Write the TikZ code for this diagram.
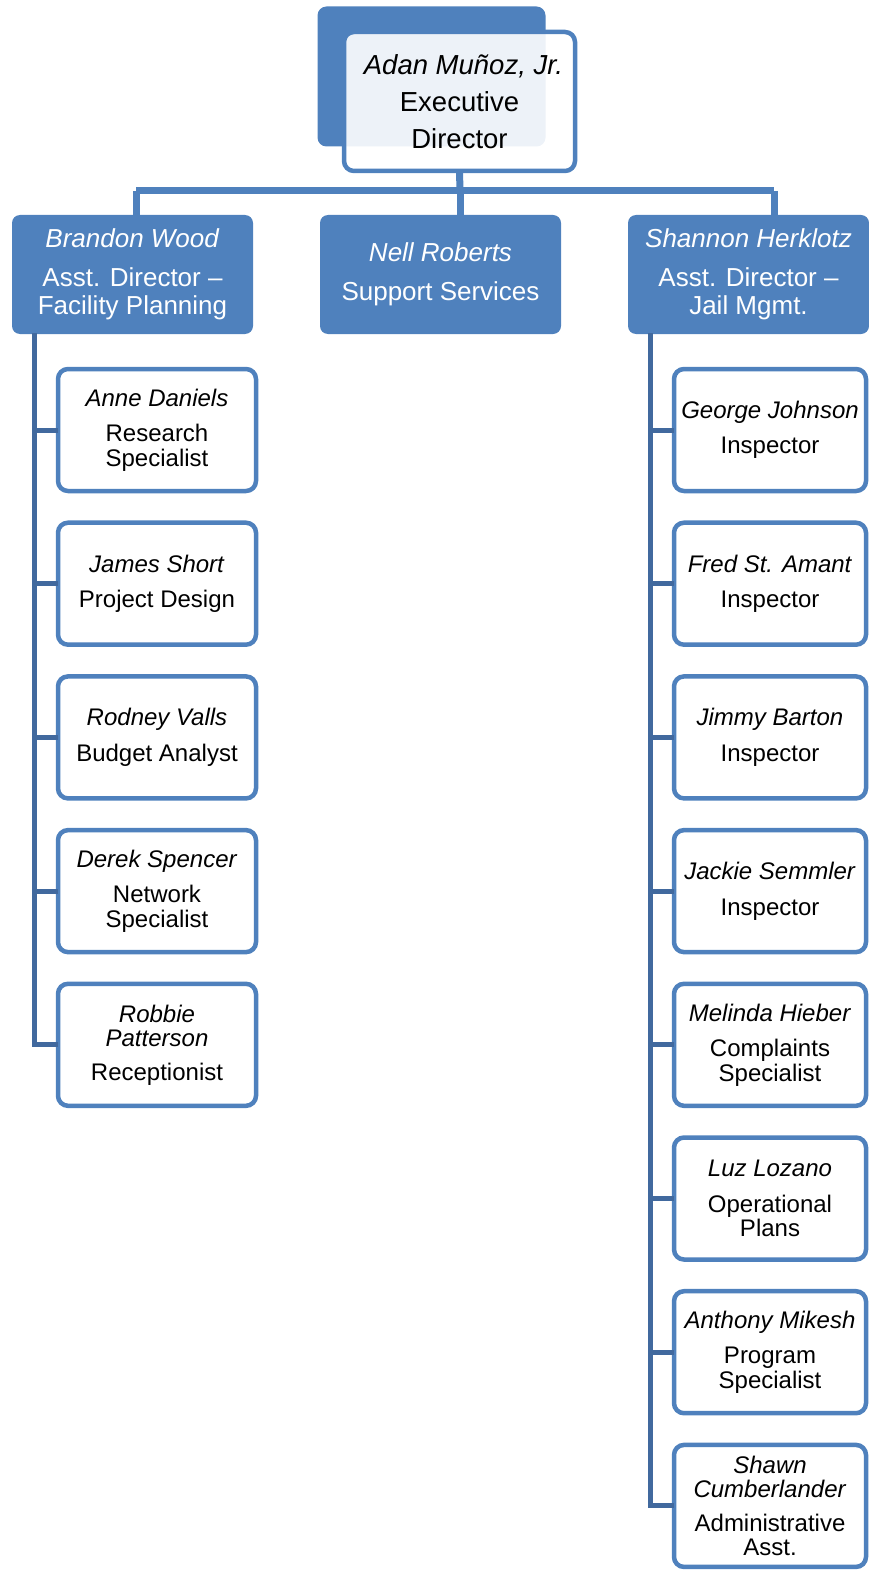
\documentclass[tikz,border=0pt]{standalone}
\usepackage{fontspec}
\setmainfont{Liberation Sans}
\definecolor{orgblue}{HTML}{4F81BD}
\definecolor{bardark}{HTML}{41699E}
\tikzset{
  headback/.style={fill=orgblue, rounded corners=9pt, inner sep=0pt, outer sep=0pt,
    minimum width=228pt, minimum height=140pt},
  headbox/.style={draw=orgblue, line width=4.5pt, fill=white, fill opacity=0.9, text opacity=1,
    rounded corners=10pt, inner sep=0pt, outer sep=0pt, minimum width=231pt, minimum height=139pt,
    align=center, font=\fontsize{27.5}{37}\selectfont},
  unitbox/.style={fill=orgblue, rounded corners=8pt, inner sep=0pt, outer sep=0pt,
    minimum width=241pt, minimum height=119pt, text=white, align=center,
    font=\fontsize{26}{28}\selectfont},
  staffbox/.style={draw=orgblue, line width=4.5pt, fill=white, rounded corners=10pt,
    inner sep=0pt, outer sep=0pt, minimum height=122pt, align=center,
    font=\fontsize{24}{24.5}\selectfont},
  leftstaff/.style={staffbox, minimum width=198pt},
  rightstaff/.style={staffbox, minimum width=192pt},
  trunk/.style={draw=orgblue, line width=7pt},
  bar/.style={draw=bardark, line width=5pt},
}
\begin{document}
\begin{tikzpicture}[x=1pt,y=-1pt]
\useasboundingbox (0,0) rectangle (869,1570);

% executive
\node[headback] (execback) at (431.5,76.5) {};
\node[headbox] (exec) at (459.5,101.5) {\hspace*{8pt}\textit{Adan Muñoz, Jr.}\\Executive\\Director};

% second level
\node[unitbox] (brandon) at (132.5,274.5) {\textit{Brandon Wood}\\[11pt]Asst. Director --\\Facility Planning};
\node[unitbox] (nell) at (440.5,274.5) {\textit{Nell Roberts}\\[11pt]Support Services};
\node[unitbox] (shannon) at (748.5,274.5) {\textit{Shannon Herklotz}\\[11pt]Asst. Director --\\Jail Mgmt.};

% bus from the executive to the second level
\coordinate (hub) at (460,191);
\coordinate (busL) at (136,191);
\coordinate (busR) at (774,191);
\draw[trunk] (busL) -- (busR);
\draw[trunk] (exec.south) -- (hub);
\draw[trunk] (hub) -- (hub |- nell.north);
\draw[trunk] (busL) -- (busL |- brandon.north);
\draw[trunk] (busR) -- (busR |- shannon.north);

% facility planning staff
\node[leftstaff] (anne)   at (157,430)    {\textit{Anne Daniels}\\[11pt]Research\\Specialist};
\node[leftstaff] (james)  at (157,583.7)  {\textit{James Short}\\[11pt]Project Design};
\node[leftstaff] (rodney) at (157,737.4)  {\textit{Rodney Valls}\\[11pt]Budget Analyst};
\node[leftstaff] (derek)  at (157,891.1)  {\textit{Derek Spencer}\\[11pt]Network\\Specialist};
\node[leftstaff] (robbie) at (157,1044.8) {\textit{Robbie}\\\textit{Patterson}\\[9pt]Receptionist};

\coordinate (lbar) at (34,333);
\draw[bar] (lbar) |- (robbie.west);
\foreach \s in {anne,james,rodney,derek}
  \draw[bar] (lbar |- \s.west) -- (\s.west);

% jail management staff
\node[rightstaff] (george)  at (770,430)    {\textit{George Johnson}\\[11pt]Inspector};
\node[rightstaff] (fred)    at (770,583.7)  {\textit{Fred St. Amant}\\[11pt]Inspector};
\node[rightstaff] (jimmy)   at (770,737.4)  {\textit{Jimmy Barton}\\[11pt]Inspector};
\node[rightstaff] (jackie)  at (770,891.1)  {\textit{Jackie Semmler}\\[11pt]Inspector};
\node[rightstaff] (melinda) at (770,1044.8) {\textit{Melinda Hieber}\\[11pt]Complaints\\Specialist};
\node[rightstaff] (luz)     at (770,1198.5) {\textit{Luz Lozano}\\[11pt]Operational\\Plans};
\node[rightstaff] (anthony) at (770,1352.2) {\textit{Anthony Mikesh}\\[11pt]Program\\Specialist};
\node[rightstaff] (shawn)   at (770,1505.9) {\textit{Shawn}\\\textit{Cumberlander}\\[9pt]Administrative\\Asst.};

\coordinate (rbar) at (650,333);
\draw[bar] (rbar) |- (shawn.west);
\foreach \s in {george,fred,jimmy,jackie,melinda,luz,anthony}
  \draw[bar] (rbar |- \s.west) -- (\s.west);
\end{tikzpicture}
\end{document}
